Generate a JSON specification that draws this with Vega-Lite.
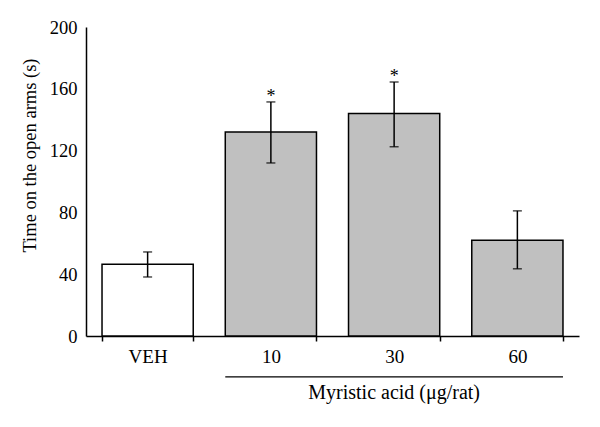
{
  "$schema": "https://vega.github.io/schema/vega-lite/v6.json",
  "width": 493,
  "height": 309,
  "autosize": {"type": "none"},
  "padding": {"left": 86, "top": 27, "right": 21, "bottom": 91},
  "background": "white",
  "config": {
    "view": {"stroke": null},
    "font": "Liberation Serif",
    "axis": {"labelFont": "Liberation Serif", "titleFont": "Liberation Serif", "labelColor": "black", "titleColor": "black", "domainColor": "black", "tickColor": "black", "grid": false}
  },
  "datasets": {
    "bars": [
      {"dose": "VEH", "group": "vehicle", "mean": 46.5, "lo": 38.2, "hi": 54.4, "sig": ""},
      {"dose": "10", "group": "myristic", "mean": 132, "lo": 112, "hi": 151.5, "sig": "*"},
      {"dose": "30", "group": "myristic", "mean": 144, "lo": 122.5, "hi": 164.4, "sig": "*"},
      {"dose": "60", "group": "myristic", "mean": 62, "lo": 43.5, "hi": 81, "sig": ""}
    ],
    "bracket": [{"from": "10", "to": "60", "mid": "30", "level": -26.5, "textLevel": -37, "label": "Myristic acid (μg/rat)"}]
  },
  "layer": [
    {
      "data": {"name": "bars"},
      "mark": {"type": "bar", "stroke": "black", "strokeWidth": 1.5},
      "encoding": {
        "x": {
          "field": "dose", "type": "nominal",
          "scale": {"domain": ["VEH", "10", "30", "60"], "paddingInner": 0.26, "paddingOuter": 0.13},
          "axis": {"title": null, "labelAngle": 0, "labelFontSize": 19, "tickBand": "extent", "tickSize": 5, "labelPadding": 6, "domainWidth": 1.5, "tickWidth": 1.5}
        },
        "y": {
          "field": "mean", "type": "quantitative",
          "scale": {"domain": [0, 200], "nice": false},
          "axis": {"title": "Time on the open arms (s)", "values": [0, 40, 80, 120, 160, 200], "ticks": false, "labelFontSize": 18.5, "labelPadding": 9, "titleFontSize": 18.5, "titleFontWeight": "normal", "titlePadding": 10, "titleY": 128, "domainWidth": 1.5}
        },
        "fill": {"field": "group", "type": "nominal", "scale": {"domain": ["vehicle", "myristic"], "range": ["white", "#c0c0c0"]}, "legend": null}
      }
    },
    {
      "data": {"name": "bars"},
      "mark": {"type": "rule", "color": "black", "strokeWidth": 1.5},
      "encoding": {
        "x": {"field": "dose", "type": "nominal"},
        "y": {"field": "lo", "type": "quantitative"},
        "y2": {"field": "hi"}
      }
    },
    {
      "data": {"name": "bars"},
      "mark": {"type": "tick", "color": "black", "thickness": 1.5, "size": 9, "orient": "horizontal"},
      "encoding": {
        "x": {"field": "dose", "type": "nominal"},
        "y": {"field": "lo", "type": "quantitative"}
      }
    },
    {
      "data": {"name": "bars"},
      "mark": {"type": "tick", "color": "black", "thickness": 1.5, "size": 9, "orient": "horizontal"},
      "encoding": {
        "x": {"field": "dose", "type": "nominal"},
        "y": {"field": "hi", "type": "quantitative"}
      }
    },
    {
      "data": {"name": "bars"},
      "mark": {"type": "text", "fontSize": 18, "baseline": "alphabetic", "color": "black", "dy": 0},
      "encoding": {
        "x": {"field": "dose", "type": "nominal"},
        "y": {"field": "hi", "type": "quantitative"},
        "text": {"field": "sig"}
      }
    },
    {
      "data": {"name": "bracket"},
      "mark": {"type": "rule", "color": "black", "strokeWidth": 1.2},
      "encoding": {
        "x": {"field": "from", "type": "nominal", "bandPosition": 0},
        "x2": {"field": "to", "bandPosition": 1},
        "y": {"field": "level", "type": "quantitative"}
      }
    },
    {
      "data": {"name": "bracket"},
      "mark": {"type": "text", "fontSize": 20, "baseline": "middle", "color": "black"},
      "encoding": {
        "x": {"field": "mid", "type": "nominal"},
        "y": {"field": "textLevel", "type": "quantitative"},
        "text": {"field": "label"}
      }
    }
  ]
}
